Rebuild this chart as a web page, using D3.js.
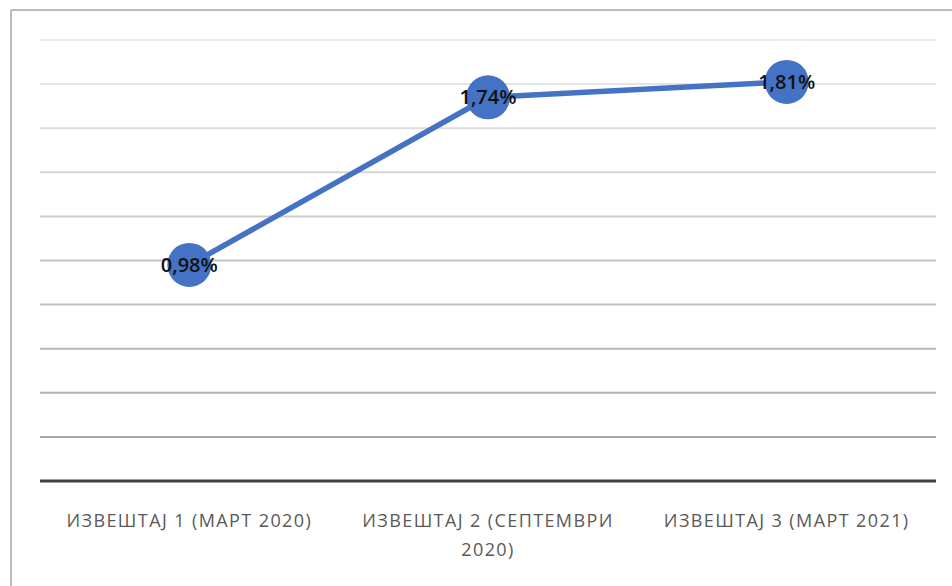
<!DOCTYPE html>
<html>
<head>
<meta charset="utf-8">
<script src="https://cdn.jsdelivr.net/npm/d3@7"></script>
<style>
  body { margin:0; background:#fff; }
  svg { display:block; }
</style>
</head>
<body>
<div id="chart"></div>
<script>
// data
var categories = ["ИЗВЕШТАЈ 1 (МАРТ 2020)", "ИЗВЕШТАЈ 2 (СЕПТЕМВРИ 2020)", "ИЗВЕШТАЈ 3 (МАРТ 2021)"];
var labelLines = [["ИЗВЕШТАЈ 1 (МАРТ 2020)"], ["ИЗВЕШТАЈ 2 (СЕПТЕМВРИ", "2020)"], ["ИЗВЕШТАЈ 3 (МАРТ 2021)"]];
var values = [0.98, 1.74, 1.81];
var valueLabels = ["0,98%", "1,74%", "1,81%"];
var yTicks = [0.2, 0.4, 0.6, 0.8, 1.0, 1.2, 1.4, 1.6, 1.8, 2.0];

var W = 952, H = 586;
var margin = { left:40, right:16, top:40, bottom:105 };
var width = W - margin.left - margin.right;
var height = H - margin.top - margin.bottom;

var svg = d3.select("#chart").append("svg")
    .attr("width", W)
    .attr("height", H);

// outer frame (only left and top edges are visible)
svg.append("line").attr("x1", 11).attr("x2", W).attr("y1", 10).attr("y2", 10)
    .attr("stroke", "#bcbcbc").attr("stroke-width", 2);
svg.append("line").attr("x1", 11).attr("x2", 11).attr("y1", 10).attr("y2", H)
    .attr("stroke", "#bcbcbc").attr("stroke-width", 2);

var g = svg.append("g")
    .attr("transform", "translate(" + margin.left + "," + margin.top + ")");

var x = d3.scaleBand().domain(categories).range([0, width]);
var y = d3.scaleLinear().domain([0, 2]).range([height, 0]);

// gridlines: lighter at top, darker towards the bottom
var gridColor = d3.scaleLinear().domain([2.0, 0.2]).range(["#ececec", "#a8a8a8"]);
g.selectAll(".grid").data(yTicks).enter().append("line")
    .attr("class", "grid")
    .attr("x1", 0).attr("x2", width)
    .attr("y1", function(d){ return y(d); })
    .attr("y2", function(d){ return y(d); })
    .attr("stroke", function(d){ return gridColor(d); })
    .attr("stroke-width", 2);

// baseline
g.append("line")
    .attr("x1", 0).attr("x2", width)
    .attr("y1", y(0)).attr("y2", y(0))
    .attr("stroke", "#404040").attr("stroke-width", 3);

// x labels
var xl = g.selectAll(".xlab").data(categories).enter().append("text")
    .attr("class", "xlab")
    .attr("text-anchor", "middle")
    .attr("font-family", "'Open Sans', sans-serif")
    .attr("font-size", "18px")
    .attr("letter-spacing", "1.4px")
    .attr("fill", "#595959")
    .attr("transform", function(d){ return "translate(" + (x(d) + x.bandwidth()/2) + "," + (y(0) + 46) + ")"; });
xl.each(function(d, i){
    var t = d3.select(this);
    labelLines[i].forEach(function(s, j){
        t.append("tspan").attr("x", 0).attr("dy", j === 0 ? 0 : 29).text(s);
    });
});

// line
var line = d3.line()
    .x(function(d, i){ return x(categories[i]) + x.bandwidth()/2; })
    .y(function(d){ return y(d); });

g.append("path")
    .attr("d", line(values))
    .attr("fill", "none")
    .attr("stroke", "#4472c4")
    .attr("stroke-width", 5.5);

// markers
g.selectAll(".dot").data(values).enter().append("circle")
    .attr("cx", function(d, i){ return x(categories[i]) + x.bandwidth()/2; })
    .attr("cy", function(d){ return y(d); })
    .attr("r", 22)
    .attr("fill", "#4472c4");

// value labels
g.selectAll(".vlab").data(values).enter().append("text")
    .attr("x", function(d, i){ return x(categories[i]) + x.bandwidth()/2; })
    .attr("y", function(d){ return y(d) + 7; })
    .attr("text-anchor", "middle")
    .attr("font-family", "'Open Sans', sans-serif")
    .attr("font-size", "20px")
    .attr("font-weight", 600)
    .attr("fill", "#111")
    .text(function(d, i){ return valueLabels[i]; });
</script>
</body>
</html>
